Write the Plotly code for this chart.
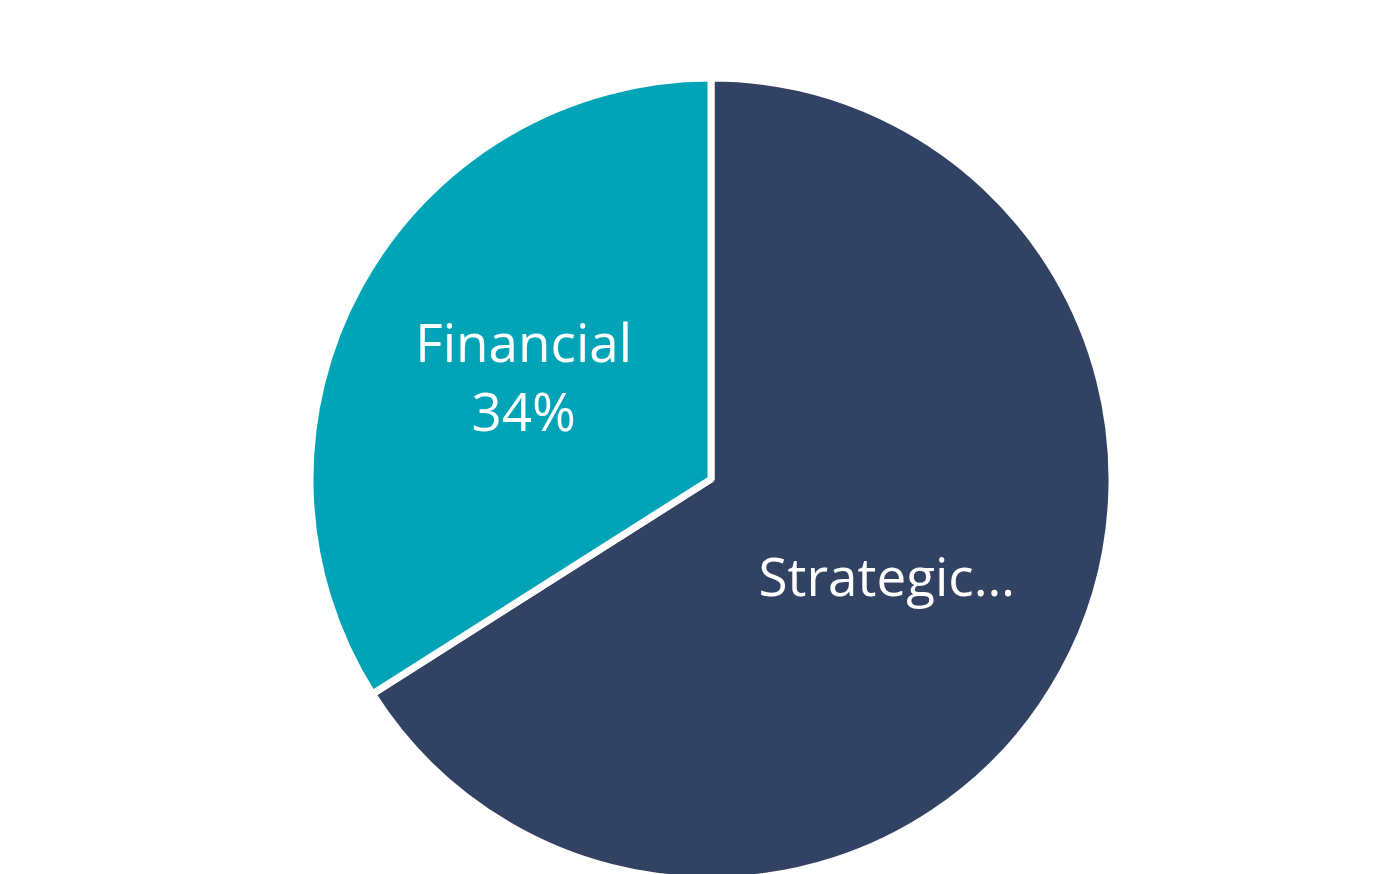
import plotly.graph_objects as go

labels = ["Strategic", "Financial"]
values = [66, 34]
colors = ["#324263", "#01A4B7"]
templates = ["%{label}…", "%{label}<br>%{percent:.0%}"]

fig = go.Figure(
    go.Pie(
        labels=labels,
        values=values,
        sort=False,
        direction="clockwise",
        rotation=0,
        marker=dict(colors=colors, line=dict(color="white", width=7)),
        texttemplate=templates,
        textposition="inside",
        insidetextorientation="horizontal",
        insidetextfont=dict(family="Open Sans", size=53, color="white"),
        showlegend=False,
        hoverinfo="label+percent",
        domain=dict(x=[0.2157, 0.7886], y=[0.0, 0.922]),
    )
)

fig.update_layout(
    width=1400,
    height=874,
    margin=dict(l=0, r=0, t=0, b=0),
    paper_bgcolor="white",
    plot_bgcolor="white",
)

fig.write_html("out.html")
